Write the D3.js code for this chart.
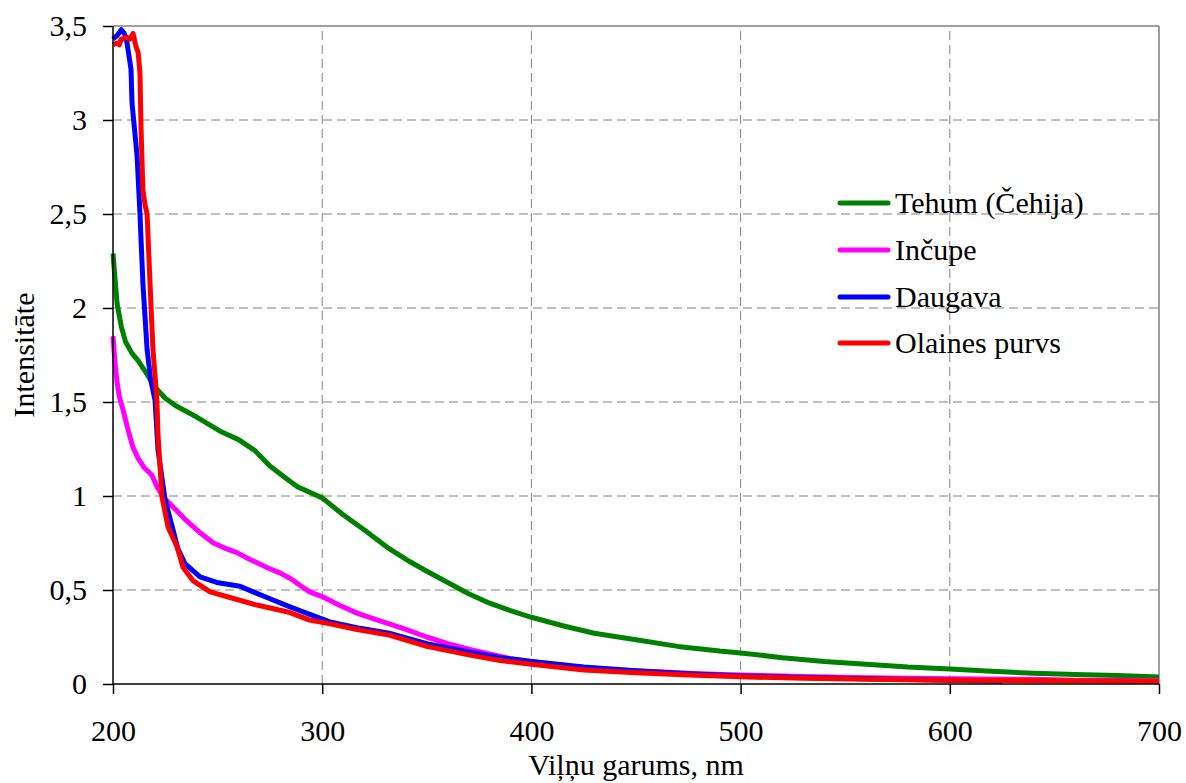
<!DOCTYPE html>
<html>
<head>
<meta charset="utf-8">
<script src="https://cdn.jsdelivr.net/npm/d3@7"></script>
<style>
  html, body { margin: 0; padding: 0; background: #fff; }
  svg { display: block; }
  svg text { font-family: "Liberation Serif", "DejaVu Serif", "Times New Roman", Times, serif; fill: #000; }
</style>
</head>
<body>
<svg id="chart" width="1186" height="783"></svg>
<script>
// Absorption spectra: wavelength (nm) vs. intensity
const xTicks = [200, 300, 400, 500, 600, 700];
const yTicks = [0, 0.5, 1, 1.5, 2, 2.5, 3, 3.5];

const seriesNames = ["Tehum (Čehija)", "Inčupe", "Daugava", "Olaines purvs"];
const seriesColors = ["#008000", "#ff00ff", "#0000ff", "#ff0000"];

const tehumNm = [200, 201, 202, 204, 206, 209, 212, 215, 220, 225, 230, 240, 252, 260, 268, 275, 282, 288, 294, 300, 310, 320, 332, 342, 350, 360, 370, 380, 390, 400, 415, 430, 450, 470, 490, 500, 520, 540, 560, 580, 600, 620, 640, 660, 680, 700];
const tehumVal = [2.29, 2.15, 2.02, 1.9, 1.82, 1.76, 1.72, 1.67, 1.58, 1.52, 1.48, 1.42, 1.34, 1.3, 1.24, 1.16, 1.1, 1.05, 1.02, 0.99, 0.9, 0.82, 0.72, 0.65, 0.6, 0.54, 0.48, 0.43, 0.39, 0.355, 0.31, 0.27, 0.235, 0.2, 0.175, 0.165, 0.14, 0.12, 0.105, 0.09, 0.08, 0.068, 0.057, 0.05, 0.045, 0.037];

const incupeNm = [200, 201, 202, 203, 205, 207, 209.5, 212, 215, 218.6, 221, 224, 228, 235, 241, 248, 254, 259, 266, 273.6, 280, 285, 290, 294, 300, 308, 316.6, 325, 332, 340, 350, 360, 370, 380, 390, 400, 420, 440, 460, 480, 500, 530, 560, 600, 640, 660, 700];
const incupeVal = [1.85, 1.7, 1.6, 1.53, 1.45, 1.36, 1.26, 1.2, 1.15, 1.11, 1.05, 0.995, 0.95, 0.87, 0.81, 0.75, 0.72, 0.7, 0.66, 0.62, 0.59, 0.56, 0.52, 0.49, 0.465, 0.42, 0.377, 0.345, 0.32, 0.29, 0.25, 0.215, 0.185, 0.16, 0.135, 0.12, 0.09, 0.075, 0.065, 0.055, 0.048, 0.04, 0.033, 0.028, 0.025, 0.02, 0.018];

const daugavaNm = [200, 202, 204, 205.5, 206.7, 208.6, 209.1, 210.3, 211.5, 212.9, 214.3, 216.3, 218, 220.1, 221.5, 224.9, 228.7, 231, 234.4, 241.6, 249.6, 260.7, 267, 273.6, 284.6, 294, 303.7, 316.6, 332, 350, 370, 385, 400, 425, 450, 475, 500, 530, 560, 600, 625];
const daugavaVal = [3.43, 3.45, 3.48, 3.46, 3.41, 3.27, 3.09, 2.95, 2.81, 2.5, 2.13, 1.78, 1.62, 1.51, 1.245, 0.98, 0.82, 0.72, 0.64, 0.57, 0.54, 0.52, 0.49, 0.46, 0.41, 0.37, 0.33, 0.3, 0.27, 0.215, 0.17, 0.14, 0.12, 0.09, 0.07, 0.055, 0.043, 0.035, 0.028, 0.02, 0.015];

const olainesNm = [200, 202, 203, 204, 206.7, 208, 209.6, 211, 212, 212.9, 213.4, 214.3, 215.3, 216.3, 217.7, 219.1, 221, 221.5, 223.4, 226.3, 230.6, 233.5, 238.2, 246.4, 255.9, 268.8, 284.6, 294, 303.7, 316.6, 332, 350, 370, 385, 400, 425, 450, 475, 500, 530, 560, 600, 650, 700];
const olainesVal = [3.4, 3.41, 3.4, 3.43, 3.44, 3.43, 3.46, 3.39, 3.36, 3.25, 2.96, 2.63, 2.55, 2.5, 2.13, 1.78, 1.51, 1.33, 0.995, 0.835, 0.73, 0.62, 0.55, 0.49, 0.46, 0.42, 0.38, 0.34, 0.32, 0.29, 0.26, 0.2, 0.155, 0.125, 0.105, 0.075, 0.06, 0.048, 0.038, 0.03, 0.025, 0.02, 0.017, 0.015];

const seriesNm = [tehumNm, incupeNm, daugavaNm, olainesNm];
const seriesVal = [tehumVal, incupeVal, daugavaVal, olainesVal];

const FONT = '"Liberation Serif", "DejaVu Serif", "Times New Roman", Times, serif';
const margin = { left: 113, right: 1186 - 1159, top: 26, bottom: 783 - 684 };
const W = 1186, H = 783;
const svg = d3.select("#chart").attr("font-family", FONT);

const x = d3.scaleLinear().domain([200, 700]).range([margin.left, W - margin.right]);
const y = d3.scaleLinear().domain([0, 3.5]).range([H - margin.bottom, margin.top]);

const fmt = v => String(v).replace(".", ",");

// plot frame (top and right edges)
svg.append("line").attr("x1", x(200)).attr("x2", x(700)).attr("y1", y(3.5)).attr("y2", y(3.5))
  .attr("stroke", "#808080").attr("stroke-width", 1.5);
svg.append("line").attr("x1", x(700)).attr("x2", x(700)).attr("y1", y(0)).attr("y2", y(3.5))
  .attr("stroke", "#808080").attr("stroke-width", 1.5);

// dashed grid
const grid = svg.append("g");
grid.selectAll("line.h").data(yTicks.filter(v => v > 0 && v < 3.5)).join("line")
  .attr("x1", x(200)).attr("x2", x(700)).attr("y1", d => y(d)).attr("y2", d => y(d))
  .attr("stroke", "#808080").attr("stroke-width", 1).attr("stroke-dasharray", "9,5");
grid.selectAll("line.v").data(xTicks.filter(v => v > 200 && v < 700)).join("line")
  .attr("y1", y(0)).attr("y2", y(3.5)).attr("x1", d => x(d)).attr("x2", d => x(d))
  .attr("stroke", "#808080").attr("stroke-width", 1).attr("stroke-dasharray", "9,5");

// series lines
const line = d3.line().x(d => x(d[0])).y(d => y(d[1])).curve(d3.curveLinear);
seriesNames.forEach((name, i) => {
  const pts = seriesNm[i].map((nm, k) => [nm, seriesVal[i][k]]);
  svg.append("path").datum(pts)
    .attr("d", line)
    .attr("fill", "none")
    .attr("stroke", seriesColors[i])
    .attr("stroke-width", 5)
    .attr("stroke-linejoin", "round")
    .attr("stroke-linecap", "butt");
});

// axes
const yAxis = d3.axisLeft(y).tickValues(yTicks).tickSize(10).tickPadding(16).tickFormat(fmt);
const gy = svg.append("g").attr("transform", `translate(${x(200)},0)`).call(yAxis);
const xAxis = d3.axisBottom(x).tickValues(xTicks).tickSize(10).tickPadding(26).tickFormat(d => d);
const gx = svg.append("g").attr("transform", `translate(0,${y(0)})`).call(xAxis);
[gx, gy].forEach(g => {
  g.attr("font-family", FONT).attr("font-size", 30);
  g.select(".domain").attr("stroke", "#000").attr("stroke-width", 1.5);
  g.selectAll(".tick line").attr("stroke", "#000").attr("stroke-width", 1.5);
  g.selectAll(".tick text").attr("font-family", FONT).attr("font-size", 30).attr("fill", "#000");
});
gy.select(".domain").attr("d", `M0,${y(0)}V${y(3.5)}`);
gx.select(".domain").attr("d", `M${x(200)},0H${x(700)}`);

// axis titles
svg.append("text").attr("x", (x(200) + x(700)) / 2).attr("y", 775)
  .attr("text-anchor", "middle").attr("font-size", 30).text("Viļņu garums, nm");
svg.append("text").attr("transform", `translate(34,${(y(0) + y(3.5)) / 2}) rotate(-90)`)
  .attr("text-anchor", "middle").attr("font-size", 30).text("Intensitāte");

// legend
const legendRows = [203, 250, 297, 343];
const legend = svg.append("g");
seriesNames.forEach((name, i) => {
  legend.append("line").attr("x1", 840).attr("x2", 888)
    .attr("y1", legendRows[i]).attr("y2", legendRows[i])
    .attr("stroke", seriesColors[i]).attr("stroke-width", 5).attr("stroke-linecap", "round");
  legend.append("text").attr("x", 895).attr("y", legendRows[i] + 10)
    .attr("font-size", 30).text(name);
});
</script>
</body>
</html>
